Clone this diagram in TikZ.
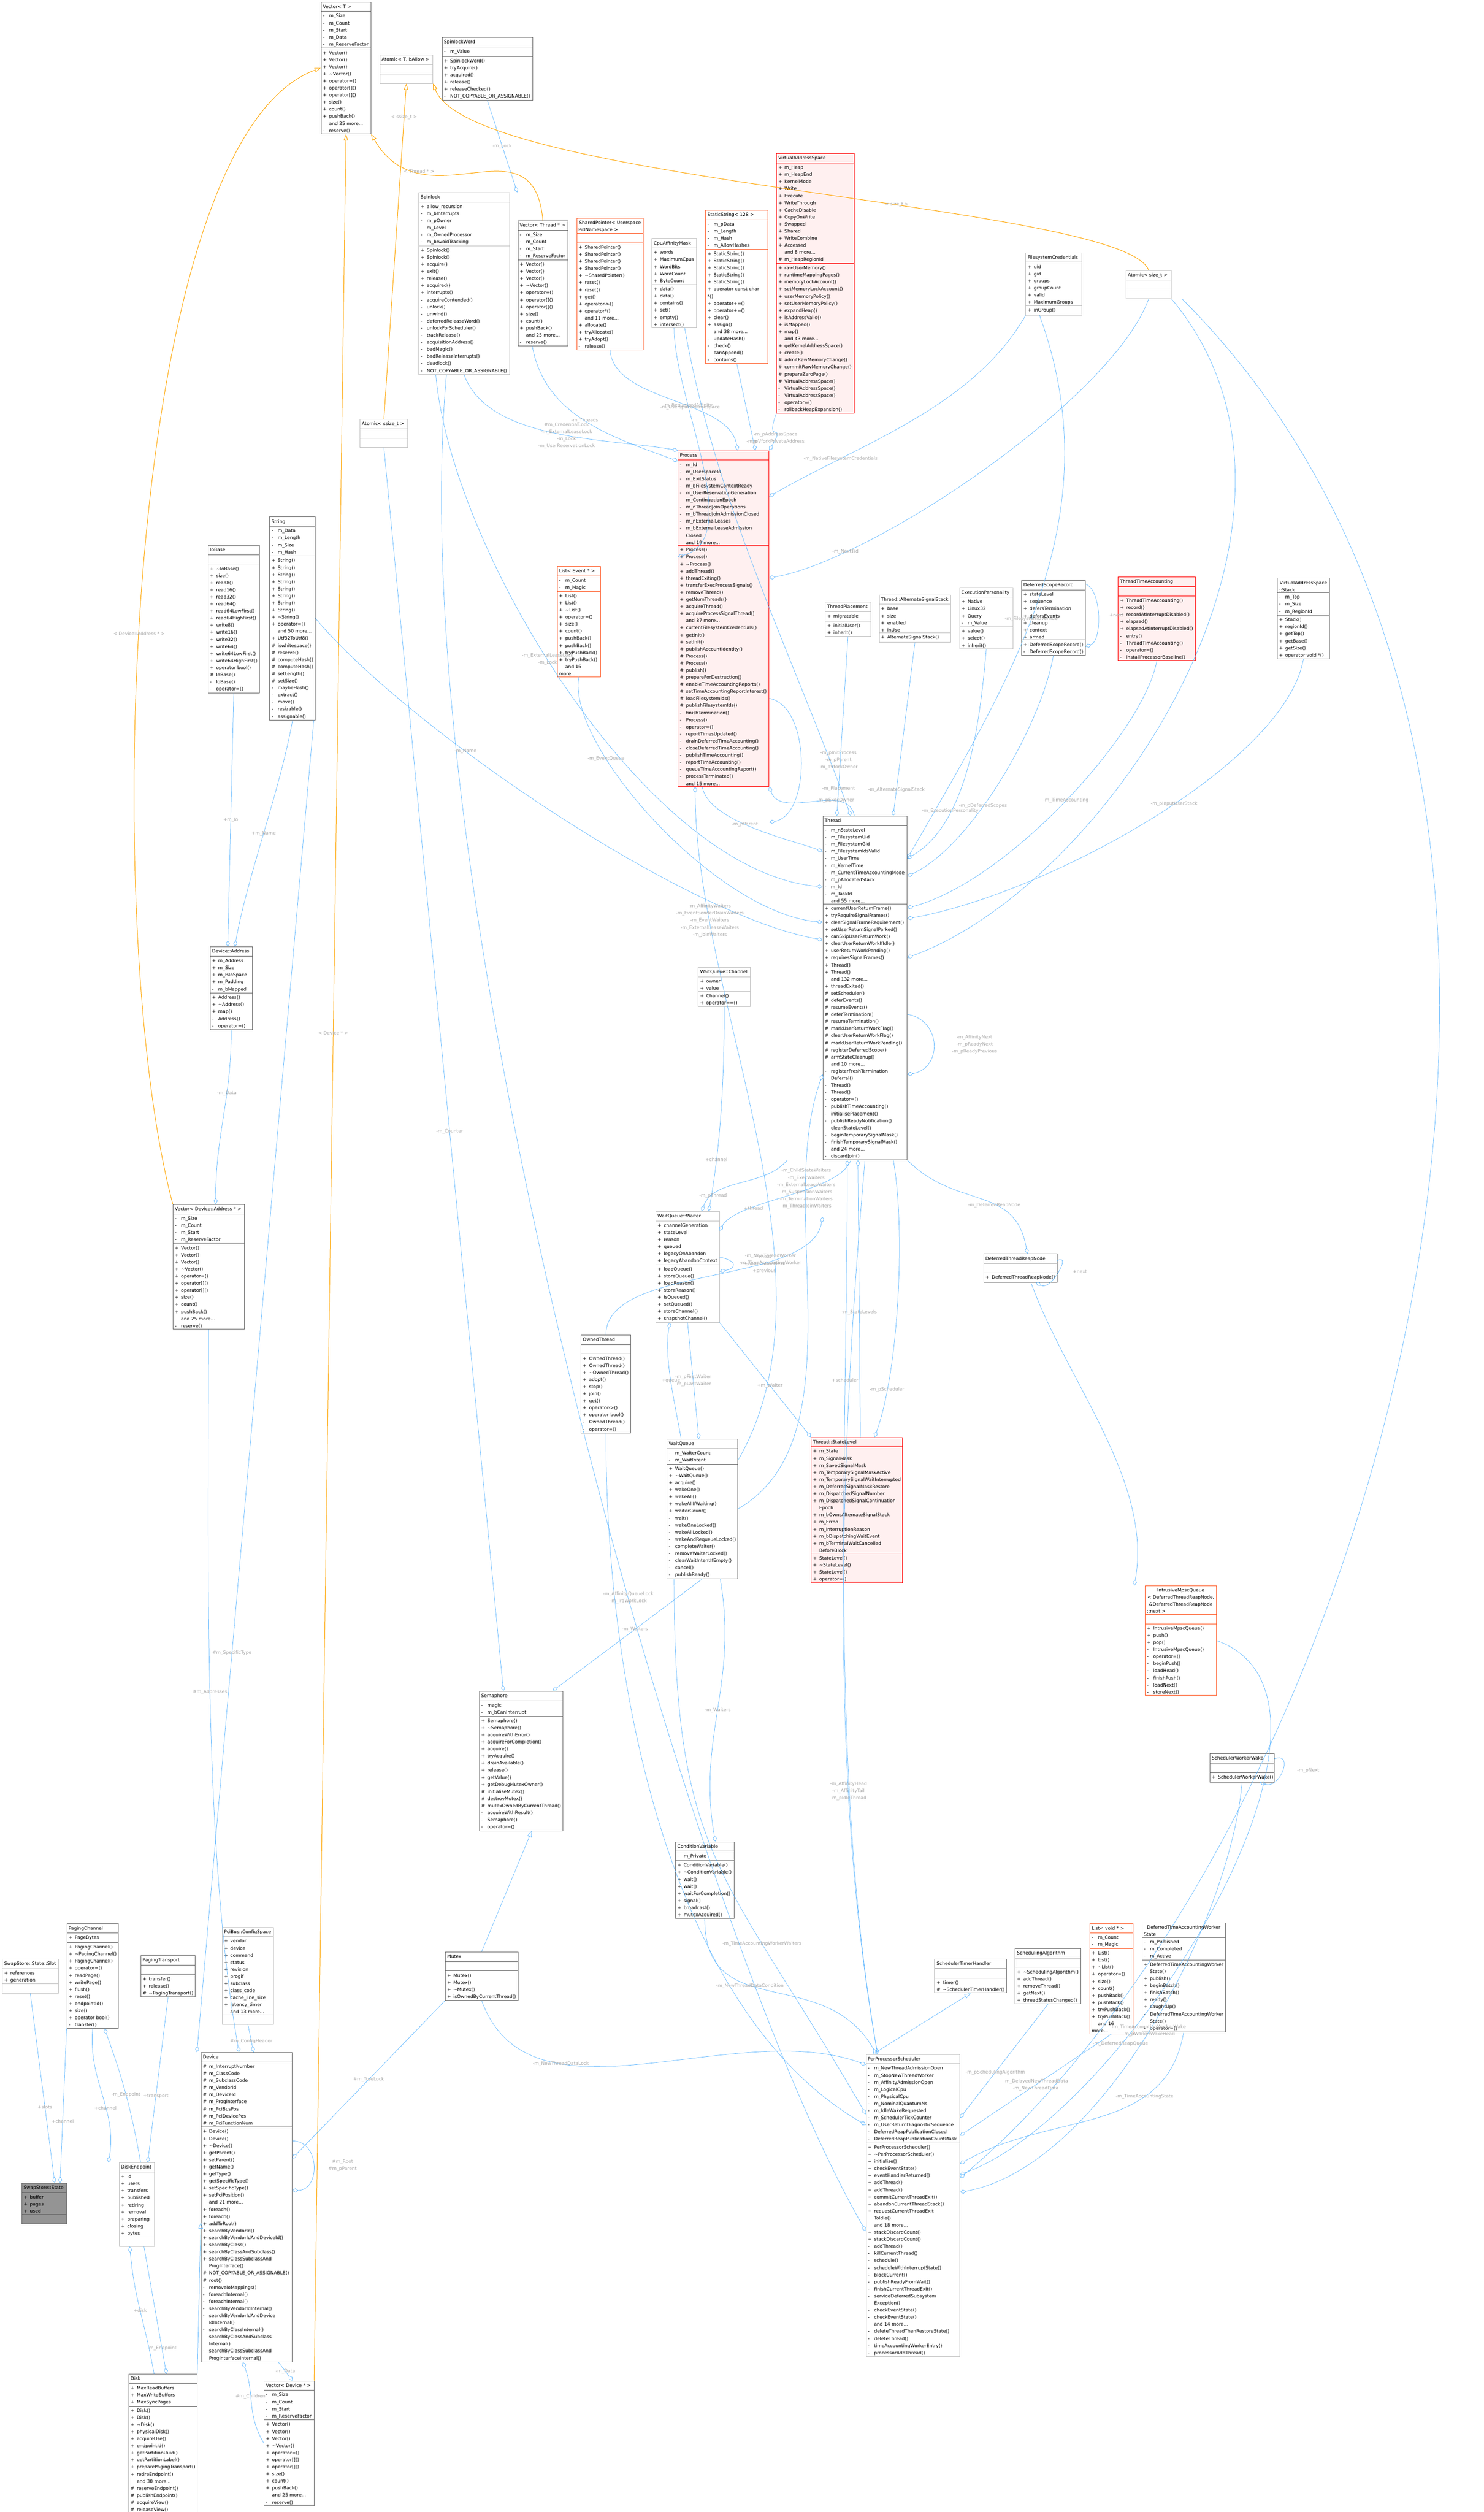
\documentclass[tikz,border=0pt]{standalone}
\usepackage{fontspec}
\setmainfont{DejaVu Sans}
\usetikzlibrary{shapes.multipart,arrows.meta}
\definecolor{ublue}{HTML}{63B8FF}
\definecolor{torange}{HTML}{FFA500}
\definecolor{redb}{HTML}{FF0000}
\definecolor{redf}{HTML}{FFF0F0}
\definecolor{orgb}{HTML}{FF5722}
\definecolor{darkb}{HTML}{666666}
\definecolor{lightb}{HTML}{BFBFBF}
\definecolor{lblc}{HTML}{A8A8A8}
% member lines with visibility mark
\newcommand\vp[1]{\makebox[5pt][l]{+}#1}
\newcommand\vh[1]{\makebox[5pt][l]{\#}#1}
\newcommand\vm[1]{\makebox[5pt][l]{-}#1}
\newcommand\vn[1]{\makebox[5pt][l]{}#1}
\newcommand\dt{\textasciitilde}
% class box: name, x, y, width (px), style, title, attributes, methods
\newcommand\umlcls[8]{%
  \pgfmathsetmacro\clsw{#4*0.28453-3}%
  \node[cls,#5,text width=\clsw pt] (#1) at ({#2/100},{-#3/100})
    {\centering\strut #6\nodepart{two}\strut #7\nodepart{three}\strut #8};}
\begin{document}
\catcode`\_=12
\begin{tikzpicture}[
    every node/.style={font=\fontsize{3.7}{5.69}\selectfont},
    cls/.style={rectangle split, rectangle split parts=3, draw=darkb, fill=white,
      anchor=north west, inner xsep=1.5pt, inner ysep=0.8pt, line width=0.3pt},
    lite/.style={draw=lightb},
    hot/.style={draw=redb, fill=redf},
    tmplc/.style={draw=orgb},
    focus/.style={fill=darkb!70, draw=darkb},
    use/.style={draw=ublue, line width=0.3pt, -{Diamond[open,length=5pt,width=3.2pt]}},
    inh/.style={draw=ublue, line width=0.3pt, -{Triangle[open,length=5pt,width=3.5pt]}},
    tmpl/.style={draw=torange, line width=0.4pt, -{Triangle[open,length=5pt,width=3.5pt]}},
    lbl/.style={text=lblc, align=center, inner sep=0.5pt}]
\useasboundingbox (0,0) rectangle (41.9,-70.93);

% top row
\umlcls{vecT}{906}{5}{141}{}{Vector< T >}
  {\vm{m_Size}\\\vm{m_Count}\\\vm{m_Start}\\\vm{m_Data}\\\vm{m_ReserveFactor}}
  {\vp{Vector()}\\\vp{Vector()}\\\vp{Vector()}\\\vp{\dt Vector()}\\\vp{operator=()}\\\vp{operator[]()}\\\vp{operator[]()}\\\vp{size()}\\\vp{count()}\\\vp{pushBack()}\\\vn{and 25 more...}\\\vm{reserve()}}
\umlcls{atomT}{1072}{155}{150}{lite}{Atomic< T, bAllow >}{}{}
\umlcls{slw}{1248}{105}{255}{}{SpinlockWord}
  {\vm{m_Value}}
  {\vp{SpinlockWord()}\\\vp{tryAcquire()}\\\vp{acquired()}\\\vp{release()}\\\vp{releaseChecked()}\\\vm{NOT_COPYABLE_OR_ASSIGNABLE()}}
\umlcls{spin}{1182}{543}{256}{lite}{Spinlock}
  {\vp{allow_recursion}\\\vm{m_bInterrupts}\\\vm{m_pOwner}\\\vm{m_Level}\\\vm{m_OwnedProcessor}\\\vm{m_bAvoidTracking}}
  {\vp{Spinlock()}\\\vp{Spinlock()}\\\vp{acquire()}\\\vp{exit()}\\\vp{release()}\\\vp{acquired()}\\\vp{interrupts()}\\\vm{acquireContended()}\\\vm{unlock()}\\\vm{unwind()}\\\vm{deferredReleaseWord()}\\\vm{unlockForScheduler()}\\\vm{trackRelease()}\\\vm{acquisitionAddress()}\\\vm{badMagic()}\\\vm{badReleaseInterrupts()}\\\vm{deadlock()}\\\vm{NOT_COPYABLE_OR_ASSIGNABLE()}}
\umlcls{vecThr}{1462}{623}{141}{}{Vector< Thread * >}
  {\vm{m_Size}\\\vm{m_Count}\\\vm{m_Start}\\\vm{m_ReserveFactor}}
  {\vp{Vector()}\\\vp{Vector()}\\\vp{Vector()}\\\vp{\dt Vector()}\\\vp{operator=()}\\\vp{operator[]()}\\\vp{operator[]()}\\\vp{size()}\\\vp{count()}\\\vp{pushBack()}\\\vn{and 25 more...}\\\vm{reserve()}}
\umlcls{shp}{1628}{615}{188}{tmplc}{SharedPointer< Userspace\\PidNamespace >}{}
  {\vp{SharedPointer()}\\\vp{SharedPointer()}\\\vp{SharedPointer()}\\\vp{SharedPointer()}\\\vp{\dt SharedPointer()}\\\vp{reset()}\\\vp{reset()}\\\vp{get()}\\\vp{operator->()}\\\vp{operator*()}\\\vn{and 11 more...}\\\vp{allocate()}\\\vp{tryAllocate()}\\\vp{tryAdopt()}\\\vm{release()}}
\umlcls{cpu}{1840}{673}{126}{lite}{CpuAffinityMask}
  {\vp{words}\\\vp{MaximumCpus}\\\vp{WordBits}\\\vp{WordCount}\\\vp{ByteCount}}
  {\vp{data()}\\\vp{data()}\\\vp{contains()}\\\vp{set()}\\\vp{empty()}\\\vp{intersect()}}
\umlcls{sstr}{1992}{593}{176}{tmplc}{StaticString< 128 >}
  {\vm{m_pData}\\\vm{m_Length}\\\vm{m_Hash}\\\vm{m_AllowHashes}}
  {\vp{StaticString()}\\\vp{StaticString()}\\\vp{StaticString()}\\\vp{StaticString()}\\\vp{StaticString()}\\\vp{operator const char *()}\\\vp{operator+=()}\\\vp{operator+=()}\\\vp{clear()}\\\vp{assign()}\\\vn{and 38 more...}\\\vm{updateHash()}\\\vm{check()}\\\vm{canAppend()}\\\vm{contains()}}
\umlcls{vas}{2192}{433}{220}{hot}{VirtualAddressSpace}
  {\vp{m_Heap}\\\vp{m_HeapEnd}\\\vp{KernelMode}\\\vp{Write}\\\vp{Execute}\\\vp{WriteThrough}\\\vp{CacheDisable}\\\vp{CopyOnWrite}\\\vp{Swapped}\\\vp{Shared}\\\vp{WriteCombine}\\\vp{Accessed}\\\vn{and 8 more...}\\\vh{m_HeapRegionId}}
  {\vp{rawUserMemory()}\\\vp{runtimeMappingPages()}\\\vp{memoryLockAccount()}\\\vp{setMemoryLockAccount()}\\\vp{userMemoryPolicy()}\\\vp{setUserMemoryPolicy()}\\\vp{expandHeap()}\\\vp{isAddressValid()}\\\vp{isMapped()}\\\vp{map()}\\\vn{and 43 more...}\\\vp{getKernelAddressSpace()}\\\vp{create()}\\\vh{admitRawMemoryChange()}\\\vh{commitRawMemoryChange()}\\\vh{prepareZeroPage()}\\\vh{VirtualAddressSpace()}\\\vm{VirtualAddressSpace()}\\\vm{VirtualAddressSpace()}\\\vm{operator=()}\\\vm{rollbackHeapExpansion()}}
\umlcls{fsc}{2896}{713}{158}{lite}{FilesystemCredentials}
  {\vp{uid}\\\vp{gid}\\\vp{groups}\\\vp{groupCount}\\\vp{valid}\\\vp{MaximumGroups}}
  {\vp{inGroup()}}
\umlcls{atomSz}{3179}{763}{128}{lite}{Atomic< size_t >}{}{}
\umlcls{atomSs}{1016}{1183}{135}{lite}{Atomic< ssize_t >}{}{}

% second band
\umlcls{iob}{587}{1539}{145}{}{IoBase}{}
  {\vp{\dt IoBase()}\\\vp{size()}\\\vp{read8()}\\\vp{read16()}\\\vp{read32()}\\\vp{read64()}\\\vp{read64LowFirst()}\\\vp{read64HighFirst()}\\\vp{write8()}\\\vp{write16()}\\\vp{write32()}\\\vp{write64()}\\\vp{write64LowFirst()}\\\vp{write64HighFirst()}\\\vp{operator bool()}\\\vh{IoBase()}\\\vm{IoBase()}\\\vm{operator=()}}
\umlcls{str}{761}{1459}{129}{}{String}
  {\vm{m_Data}\\\vm{m_Length}\\\vm{m_Size}\\\vm{m_Hash}}
  {\vp{String()}\\\vp{String()}\\\vp{String()}\\\vp{String()}\\\vp{String()}\\\vp{String()}\\\vp{String()}\\\vp{String()}\\\vp{\dt String()}\\\vp{operator=()}\\\vn{and 50 more...}\\\vp{Utf32ToUtf8()}\\\vh{iswhitespace()}\\\vh{reserve()}\\\vh{computeHash()}\\\vh{computeHash()}\\\vh{setLength()}\\\vh{setSize()}\\\vm{maybeHash()}\\\vm{extract()}\\\vm{move()}\\\vm{resizable()}\\\vm{assignable()}}
\umlcls{lev}{1573}{1599}{122}{tmplc}{List< Event * >}
  {\vm{m_Count}\\\vm{m_Magic}}
  {\vp{List()}\\\vp{List()}\\\vp{\dt List()}\\\vp{operator=()}\\\vp{size()}\\\vp{count()}\\\vp{pushBack()}\\\vp{pushBack()}\\\vp{tryPushBack()}\\\vp{tryPushBack()}\\\vn{and 16 more...}}
\umlcls{proc}{1914}{1272}{257}{hot}{Process}
  {\vm{m_Id}\\\vm{m_UserspaceId}\\\vm{m_ExitStatus}\\\vm{m_bFilesystemContextReady}\\\vm{m_UserReservationGeneration}\\\vm{m_ContinuationEpoch}\\\vm{m_nThreadJoinOperations}\\\vm{m_bThreadJoinAdmissionClosed}\\\vm{m_nExternalLeases}\\\vm{m_bExternalLeaseAdmission}\\\vn{Closed}\\\vn{and 19 more...}}
  {\vp{Process()}\\\vp{Process()}\\\vp{\dt Process()}\\\vp{addThread()}\\\vp{threadExiting()}\\\vp{transferExecProcessSignals()}\\\vp{removeThread()}\\\vp{getNumThreads()}\\\vp{acquireThread()}\\\vp{acquireProcessSignalThread()}\\\vn{and 87 more...}\\\vp{currentFilesystemCredentials()}\\\vp{getInit()}\\\vp{setInit()}\\\vh{publishAccountIdentity()}\\\vh{Process()}\\\vh{Process()}\\\vh{publish()}\\\vh{prepareForDestruction()}\\\vh{enableTimeAccountingReports()}\\\vh{setTimeAccountingReportInterest()}\\\vh{loadFilesystemIds()}\\\vh{publishFilesystemIds()}\\\vm{finishTermination()}\\\vm{Process()}\\\vm{operator=()}\\\vm{reportTimesUpdated()}\\\vm{drainDeferredTimeAccounting()}\\\vm{closeDeferredTimeAccounting()}\\\vm{publishTimeAccounting()}\\\vm{reportTimeAccounting()}\\\vm{queueTimeAccountingReport()}\\\vm{processTerminated()}\\\vn{and 15 more...}}
\umlcls{tpl}{2330}{1700}{128}{lite}{ThreadPlacement}
  {\vp{migratable}}{\vp{initialUser()}\\\vp{inherit()}}
\umlcls{ass}{2482}{1679}{202}{lite}{Thread::AlternateSignalStack}
  {\vp{base}\\\vp{size}\\\vp{enabled}\\\vp{inUse}}{\vp{AlternateSignalStack()}}
\umlcls{exp}{2709}{1659}{151}{lite}{ExecutionPersonality}
  {\vp{Native}\\\vp{Linux32}\\\vp{Query}\\\vm{m_Value}}{\vp{value()}\\\vp{select()}\\\vp{inherit()}}
\umlcls{dsr}{2884}{1639}{180}{}{DeferredScopeRecord}
  {\vp{stateLevel}\\\vp{sequence}\\\vp{defersTermination}\\\vp{defersEvents}\\\vp{cleanup}\\\vp{context}\\\vp{armed}}
  {\vp{DeferredScopeRecord()}\\\vm{DeferredScopeRecord()}}
\umlcls{tta}{3157}{1629}{218}{hot}{ThreadTimeAccounting}{}
  {\vp{ThreadTimeAccounting()}\\\vp{record()}\\\vp{recordAtInterruptDisabled()}\\\vp{elapsed()}\\\vp{elapsedAtInterruptDisabled()}\\\vm{entry()}\\\vm{ThreadTimeAccounting()}\\\vm{operator=()}\\\vm{installProcessorBaseline()}}
\umlcls{vstk}{3606}{1632}{148}{}{VirtualAddressSpace\\::Stack}
  {\vm{m_Top}\\\vm{m_Size}\\\vm{m_RegionId}}
  {\vp{Stack()}\\\vp{regionId()}\\\vp{getTop()}\\\vp{getBase()}\\\vp{getSize()}\\\vp{operator void *()}}
\umlcls{thr}{2323}{2304}{238}{}{Thread}
  {\vm{m_nStateLevel}\\\vm{m_FilesystemUid}\\\vm{m_FilesystemGid}\\\vm{m_FilesystemIdsValid}\\\vm{m_UserTime}\\\vm{m_KernelTime}\\\vm{m_CurrentTimeAccountingMode}\\\vm{m_pAllocatedStack}\\\vm{m_Id}\\\vm{m_TaskId}\\\vn{and 55 more...}}
  {\vp{currentUserReturnFrame()}\\\vp{tryRequireSignalFrames()}\\\vp{clearSignalFrameRequirement()}\\\vp{setUserReturnSignalParked()}\\\vp{canSkipUserReturnWork()}\\\vp{clearUserReturnWorkIfIdle()}\\\vp{userReturnWorkPending()}\\\vp{requiresSignalFrames()}\\\vp{Thread()}\\\vp{Thread()}\\\vn{and 132 more...}\\\vp{threadExited()}\\\vh{setScheduler()}\\\vh{deferEvents()}\\\vh{resumeEvents()}\\\vh{deferTermination()}\\\vh{resumeTermination()}\\\vh{markUserReturnWorkFlag()}\\\vh{clearUserReturnWorkFlag()}\\\vh{markUserReturnWorkPending()}\\\vh{registerDeferredScope()}\\\vh{armStateCleanup()}\\\vn{and 10 more...}\\\vm{registerFreshTermination}\\\vn{Deferral()}\\\vm{Thread()}\\\vm{Thread()}\\\vm{operator=()}\\\vm{publishTimeAccounting()}\\\vm{initialisePlacement()}\\\vm{publishReadyNotification()}\\\vm{cleanStateLevel()}\\\vm{beginTemporarySignalMask()}\\\vm{finishTemporarySignalMask()}\\\vn{and 24 more...}\\\vm{discardJoin()}}

% middle band
\umlcls{dadr}{593}{2673}{119}{}{Device::Address}
  {\vp{m_Address}\\\vp{m_Size}\\\vp{m_IsIoSpace}\\\vp{m_Padding}\\\vm{m_bMapped}}
  {\vp{Address()}\\\vp{\dt Address()}\\\vp{map()}\\\vm{Address()}\\\vm{operator=()}}
\umlcls{wqc}{1971}{2731}{147}{lite}{WaitQueue::Channel}
  {\vp{owner}\\\vp{value}}{\vp{Channel()}\\\vp{operator==()}}
\umlcls{vecDA}{488}{3400}{201}{}{Vector< Device::Address * >}
  {\vm{m_Size}\\\vm{m_Count}\\\vm{m_Start}\\\vm{m_ReserveFactor}}
  {\vp{Vector()}\\\vp{Vector()}\\\vp{Vector()}\\\vp{\dt Vector()}\\\vp{operator=()}\\\vp{operator[]()}\\\vp{operator[]()}\\\vp{size()}\\\vp{count()}\\\vp{pushBack()}\\\vn{and 25 more...}\\\vm{reserve()}}
\umlcls{wqw}{1851}{3420}{180}{lite}{WaitQueue::Waiter}
  {\vp{channelGeneration}\\\vp{stateLevel}\\\vp{reason}\\\vp{queued}\\\vp{legacyOnAbandon}\\\vp{legacyAbandonContext}}
  {\vp{loadQueue()}\\\vp{storeQueue()}\\\vp{loadReason()}\\\vp{storeReason()}\\\vp{isQueued()}\\\vp{setQueued()}\\\vp{storeChannel()}\\\vp{snapshotChannel()}}
\umlcls{dtrn}{2777}{3540}{207}{}{DeferredThreadReapNode}{}{\vp{DeferredThreadReapNode()}}
\umlcls{owt}{1640}{3769}{141}{}{OwnedThread}{}
  {\vp{OwnedThread()}\\\vp{OwnedThread()}\\\vp{\dt OwnedThread()}\\\vp{adopt()}\\\vp{stop()}\\\vp{join()}\\\vp{get()}\\\vp{operator->()}\\\vp{operator bool()}\\\vm{OwnedThread()}\\\vm{operator=()}}
\umlcls{wq}{1883}{4063}{200}{}{WaitQueue}
  {\vm{m_WaiterCount}\\\vm{m_WaitIntent}}
  {\vp{WaitQueue()}\\\vp{\dt WaitQueue()}\\\vp{acquire()}\\\vp{wakeOne()}\\\vp{wakeAll()}\\\vp{wakeAllIfWaiting()}\\\vp{waiterCount()}\\\vm{wait()}\\\vm{wakeOneLocked()}\\\vm{wakeAllLocked()}\\\vm{wakeAndRequeueLocked()}\\\vm{completeWaiter()}\\\vm{removeWaiterLocked()}\\\vm{clearWaitIntentIfEmpty()}\\\vm{cancel()}\\\vm{publishReady()}}
\umlcls{stl}{2290}{4058}{258}{hot}{Thread::StateLevel}
  {\vp{m_State}\\\vp{m_SignalMask}\\\vp{m_SavedSignalMask}\\\vp{m_TemporarySignalMaskActive}\\\vp{m_TemporarySignalWaitInterrupted}\\\vp{m_DeferredSignalMaskRestore}\\\vp{m_DispatchedSignalNumber}\\\vp{m_DispatchedSignalContinuation}\\\vn{Epoch}\\\vp{m_bOwnsAlternateSignalStack}\\\vp{m_Errno}\\\vp{m_InterruptionReason}\\\vp{m_bDispatchingWaitEvent}\\\vp{m_bTerminalWaitCancelled}\\\vn{BeforeBlock}}
  {\vp{StateLevel()}\\\vp{\dt StateLevel()}\\\vp{StateLevel()}\\\vp{operator=()}}
\umlcls{mpsc}{3233}{4477}{202}{tmplc}{IntrusiveMpscQueue\\< DeferredThreadReapNode,\\ \&DeferredThreadReapNode\\::next >}{}
  {\vp{IntrusiveMpscQueue()}\\\vp{push()}\\\vp{pop()}\\\vm{IntrusiveMpscQueue()}\\\vm{operator=()}\\\vm{beginPush()}\\\vm{loadHead()}\\\vm{finishPush()}\\\vm{loadNext()}\\\vm{storeNext()}}
\umlcls{sem}{1353}{4775}{236}{}{Semaphore}
  {\vm{magic}\\\vm{m_bCanInterrupt}}
  {\vp{Semaphore()}\\\vp{\dt Semaphore()}\\\vp{acquireWithError()}\\\vp{acquireForCompletion()}\\\vp{acquire()}\\\vp{tryAcquire()}\\\vp{drainAvailable()}\\\vp{release()}\\\vp{getValue()}\\\vp{getDebugMutexOwner()}\\\vh{initialiseMutex()}\\\vh{destroyMutex()}\\\vh{mutexOwnedByCurrentThread()}\\\vm{acquireWithResult()}\\\vm{Semaphore()}\\\vm{operator=()}}
\umlcls{sww}{3416}{4951}{182}{}{SchedulerWorkerWake}{}{\vp{SchedulerWorkerWake()}}
\umlcls{cv}{1907}{5200}{165}{}{ConditionVariable}
  {\vm{m_Private}}
  {\vp{ConditionVariable()}\\\vp{\dt ConditionVariable()}\\\vp{wait()}\\\vp{wait()}\\\vp{waitForCompletion()}\\\vp{signal()}\\\vp{broadcast()}\\\vp{mutexAcquired()}}
\umlcls{mtx}{1257}{5511}{205}{}{Mutex}{}
  {\vp{Mutex()}\\\vp{Mutex()}\\\vp{\dt Mutex()}\\\vp{isOwnedByCurrentThread()}}

% scheduler band
\umlcls{sth}{2639}{5531}{203}{}{SchedulerTimerHandler}{}
  {\vp{timer()}\\\vh{\dt SchedulerTimerHandler()}}
\umlcls{salg}{2866}{5501}{186}{}{SchedulingAlgorithm}{}
  {\vp{\dt SchedulingAlgorithm()}\\\vp{addThread()}\\\vp{removeThread()}\\\vp{getNext()}\\\vp{threadStatusChanged()}}
\umlcls{lvoid}{3077}{5431}{122}{tmplc}{List< void * >}
  {\vm{m_Count}\\\vm{m_Magic}}
  {\vp{List()}\\\vp{List()}\\\vp{\dt List()}\\\vp{operator=()}\\\vp{size()}\\\vp{count()}\\\vp{pushBack()}\\\vp{pushBack()}\\\vp{tryPushBack()}\\\vp{tryPushBack()}\\\vn{and 16 more...}}
\umlcls{dtaws}{3224}{5429}{236}{}{DeferredTimeAccountingWorker\\State}
  {\vm{m_Published}\\\vm{m_Completed}\\\vm{m_Active}}
  {\vp{DeferredTimeAccountingWorker}\\\vn{State()}\\\vp{publish()}\\\vp{beginBatch()}\\\vp{finishBatch()}\\\vp{ready()}\\\vp{caughtUp()}\\\vm{DeferredTimeAccountingWorker}\\\vn{State()}\\\vm{operator=()}}
\umlcls{pcs}{2445}{5800}{265}{lite}{PerProcessorScheduler}
  {\vm{m_NewThreadAdmissionOpen}\\\vm{m_StopNewThreadWorker}\\\vm{m_AffinityAdmissionOpen}\\\vm{m_LogicalCpu}\\\vm{m_PhysicalCpu}\\\vm{m_NominalQuantumNs}\\\vm{m_IdleWakeRequested}\\\vm{m_SchedulerTickCounter}\\\vm{m_UserReturnDiagnosticSequence}\\\vm{DeferredReapPublicationClosed}\\\vm{DeferredReapPublicationCountMask}}
  {\vp{PerProcessorScheduler()}\\\vp{\dt PerProcessorScheduler()}\\\vp{initialise()}\\\vp{checkEventState()}\\\vp{eventHandlerReturned()}\\\vp{addThread()}\\\vp{addThread()}\\\vp{commitCurrentThreadExit()}\\\vp{abandonCurrentThreadStack()}\\\vp{requestCurrentThreadExit}\\\vn{ToIdle()}\\\vn{and 18 more...}\\\vp{stackDiscardCount()}\\\vp{stackDiscardCount()}\\\vm{addThread()}\\\vm{killCurrentThread()}\\\vm{schedule()}\\\vm{scheduleWithInterruptState()}\\\vm{blockCurrent()}\\\vm{publishReadyFromWait()}\\\vm{finishCurrentThreadExit()}\\\vm{serviceDeferredSubsystem}\\\vn{Exception()}\\\vm{checkEventState()}\\\vm{checkEventState()}\\\vn{and 14 more...}\\\vm{deleteThreadThenRestoreState()}\\\vm{deleteThread()}\\\vm{timeAccountingWorkerEntry()}\\\vm{processorAddThread()}}

% bottom-left band
\umlcls{slot}{6}{5531}{158}{lite}{SwapStore::State::Slot}
  {\vp{references}\\\vp{generation}}{}
\umlcls{pch}{188}{5431}{146}{}{PagingChannel}
  {\vp{PageBytes}}
  {\vp{PagingChannel()}\\\vp{\dt PagingChannel()}\\\vp{PagingChannel()}\\\vp{operator=()}\\\vp{readPage()}\\\vp{writePage()}\\\vp{flush()}\\\vp{reset()}\\\vp{endpointId()}\\\vp{size()}\\\vp{operator bool()}\\\vm{transfer()}}
\umlcls{ptr}{397}{5521}{154}{}{PagingTransport}{}
  {\vp{transfer()}\\\vp{release()}\\\vh{\dt PagingTransport()}}
\umlcls{pci}{627}{5441}{145}{lite}{PciBus::ConfigSpace}
  {\vp{vendor}\\\vp{device}\\\vp{command}\\\vp{status}\\\vp{revision}\\\vp{progif}\\\vp{subclass}\\\vp{class_code}\\\vp{cache_line_size}\\\vp{latency_timer}\\\vn{and 13 more...}}{}
\umlcls{dev}{567}{5795}{257}{}{Device}
  {\vh{m_InterruptNumber}\\\vh{m_ClassCode}\\\vh{m_SubclassCode}\\\vh{m_VendorId}\\\vh{m_DeviceId}\\\vh{m_ProgInterface}\\\vh{m_PciBusPos}\\\vh{m_PciDevicePos}\\\vh{m_PciFunctionNum}}
  {\vp{Device()}\\\vp{Device()}\\\vp{\dt Device()}\\\vp{getParent()}\\\vp{setParent()}\\\vp{getName()}\\\vp{getType()}\\\vp{getSpecificType()}\\\vp{setSpecificType()}\\\vp{setPciPosition()}\\\vn{and 21 more...}\\\vp{foreach()}\\\vp{foreach()}\\\vp{addToRoot()}\\\vp{searchByVendorId()}\\\vp{searchByVendorIdAndDeviceId()}\\\vp{searchByClass()}\\\vp{searchByClassAndSubclass()}\\\vp{searchByClassSubclassAnd}\\\vn{ProgInterface()}\\\vh{NOT_COPYABLE_OR_ASSIGNABLE()}\\\vh{root()}\\\vm{removeIoMappings()}\\\vm{foreachInternal()}\\\vm{foreachInternal()}\\\vm{searchByVendorIdInternal()}\\\vm{searchByVendorIdAndDevice}\\\vn{IdInternal()}\\\vm{searchByClassInternal()}\\\vm{searchByClassAndSubclass}\\\vn{Internal()}\\\vm{searchByClassSubclassAnd}\\\vn{ProgInterfaceInternal()}}
\umlcls{sst}{61}{6164}{126}{focus}{SwapStore::State}
  {\vp{buffer}\\\vp{pages}\\\vp{used}}{}
\umlcls{dep}{336}{6106}{100}{lite}{DiskEndpoint}
  {\vp{id}\\\vp{users}\\\vp{transfers}\\\vp{published}\\\vp{retiring}\\\vp{removal}\\\vp{preparing}\\\vp{closing}\\\vp{bytes}}{}
\umlcls{disk}{363}{6703}{193}{}{Disk}
  {\vp{MaxReadBuffers}\\\vp{MaxWriteBuffers}\\\vp{MaxSyncPages}}
  {\vp{Disk()}\\\vp{Disk()}\\\vp{\dt Disk()}\\\vp{physicalDisk()}\\\vp{acquireUse()}\\\vp{endpointId()}\\\vp{getPartitionUuid()}\\\vp{getPartitionLabel()}\\\vp{preparePagingTransport()}\\\vp{retireEndpoint()}\\\vn{and 30 more...}\\\vh{reserveEndpoint()}\\\vh{publishEndpoint()}\\\vh{acquireView()}\\\vh{releaseView()}}
\umlcls{vecDev}{745}{6722}{141}{}{Vector< Device * >}
  {\vm{m_Size}\\\vm{m_Count}\\\vm{m_Start}\\\vm{m_ReserveFactor}}
  {\vp{Vector()}\\\vp{Vector()}\\\vp{Vector()}\\\vp{\dt Vector()}\\\vp{operator=()}\\\vp{operator[]()}\\\vp{operator[]()}\\\vp{size()}\\\vp{count()}\\\vp{pushBack()}\\\vn{and 25 more...}\\\vm{reserve()}}

% template instances
\draw[tmpl] (vecThr.north) .. controls +(95:3) and +(-60:3) .. (vecT.south east) node[lbl,pos=0.75]{< Thread * >};
\draw[tmpl] (vecDA.north west) .. controls +(105:8) and +(200:6) .. (vecT.west) node[lbl,pos=0.45]{< Device::Address * >};
\draw[tmpl] (vecDev.north east) -- (vecT.south) node[lbl,pos=0.6]{< Device * >};
\draw[tmpl] (atomSs.north) -- (atomT.south) node[lbl,pos=0.9]{< ssize_t >};
\draw[tmpl] (atomSz.north) .. controls +(110:2) and +(-70:3) .. (atomT.south east) node[lbl,pos=0.4]{< size_t >};

% usage relations
\draw[use] (slw.south) -- ([xshift=1.5cm]spin.north) node[lbl,pos=0.5]{-m_Lock};
\draw[use] (spin.south) .. controls +(-70:2) and +(170:2) .. (proc.north west) node[lbl,pos=0.55]{\#m_CredentialLock\\-m_ExternalLeaseLock\\-m_Lock\\-m_UserReservationLock};
\draw[use] ([xshift=-0.8cm]spin.south) .. controls +(-85:5) and +(175:5) .. ([yshift=-2cm]thr.north west) node[lbl,pos=0.45]{-m_ExternalLeaseLock\\-m_Lock};
\draw[use] ([xshift=-0.5cm]spin.south) .. controls +(-95:15) and +(120:10) .. ([yshift=-5cm]pcs.north west) node[lbl,pos=0.6]{-m_AffinityQueueLock\\-m_IrqWorkLock};
\draw[use] ([xshift=-0.3cm]vecThr.south) .. controls +(-80:2) and +(160:2) .. ([yshift=-0.3cm]proc.north west) node[lbl,pos=0.5]{-m_Threads};
\draw[use] (shp.south) .. controls +(-85:1.5) and +(100:1.5) .. ([xshift=0.4cm]proc.north) node[lbl,pos=0.6]{-m_UserspaceNamespace};
\draw[use] (cpu.south) .. controls +(-90:2) and +(15:2) .. ([yshift=-3cm]proc.north west) node[lbl,pos=0.3]{-m_RequestedAffinity};
\draw[use] ([xshift=0.3cm]cpu.south) .. controls +(-80:5) and +(110:5) .. ([xshift=-0.4cm]thr.north);
\draw[use] (sstr.south) -- ([xshift=0.9cm]proc.north) node[lbl,pos=0.9]{-str};
\draw[use] (vas.south west) .. controls +(-110:1) and +(60:1) .. (proc.north east) node[lbl,pos=0.8]{-m_pAddressSpace\\-m_pVforkPrivateAddress};
\draw[use] (fsc.south west) .. controls +(-120:3) and +(30:3) .. ([yshift=-1.3cm]proc.north east) node[lbl,pos=0.75]{-m_NativeFilesystemCredentials};
\draw[use] ([xshift=-0.4cm]fsc.south) .. controls +(-70:6) and +(60:6) .. ([yshift=-1.2cm]thr.north east) node[lbl,pos=0.55]{-m_FilesystemOverride};
\draw[use] (atomSz.south) .. controls +(-110:3) and +(10:3) .. ([yshift=-3.6cm]proc.north east) node[lbl,pos=0.8]{-m_NextTid};
\draw[use] (atomSz.south east) .. controls +(-50:8) and +(20:6) .. ([yshift=-4cm]thr.north east);
\draw[use] ([xshift=0.3cm]atomSz.south east) .. controls +(-45:20) and +(40:15) .. ([yshift=-3.5cm]pcs.north east);
\draw[use] (str.south) .. controls +(-100:2) and +(80:2) .. ([xshift=0.1cm]dadr.north) node[lbl,pos=0.5]{+m_Name};
\draw[use] (iob.south) -- ([xshift=-0.1cm]dadr.north) node[lbl,pos=0.5]{+m_Io};
\draw[use] (str.east) .. controls +(-50:4) and +(170:4) .. ([yshift=-3.5cm]thr.north west) node[lbl,pos=0.35]{-m_Name};
\draw[use] ([xshift=0.6cm]str.south) -- ([xshift=-1.4cm]dev.north) node[lbl,pos=0.7]{\#m_SpecificType};
\draw[use] (lev.south) .. controls +(-100:2) and +(175:3) .. ([yshift=-3cm]thr.north west) node[lbl,pos=0.3]{-m_EventQueue};
\draw[use] (atomSs.south) -- ([xshift=-0.5cm]sem.north) node[lbl,pos=0.55]{-m_Counter};
\draw[use] ([yshift=-7cm]proc.north east) .. controls +(-10:1.2) and +(10:1.2) .. ([yshift=-10.5cm]proc.north east) node[lbl,pos=0.5,right=0.5cm]{-m_pInitProcess\\-m_pParent\\-m_pVforkOwner};
\draw[use] ([xshift=-0.3cm]thr.north) .. controls +(100:1) and +(-70:1) .. (proc.south east) node[lbl,pos=0.3]{-m_pExecOwner};
\draw[use] ([xshift=-0.6cm]proc.south) .. controls +(-80:1) and +(160:1) .. ([yshift=-1cm]thr.north west) node[lbl,pos=0.45]{-m_pParent};
\draw[use] (tpl.south) -- ([xshift=0.4cm]thr.north west) node[lbl,pos=0.85]{-m_Placement};
\draw[use] (ass.south) -- ([xshift=-0.4cm]thr.north east) node[lbl,pos=0.85]{-m_AlternateSignalStack};
\draw[use] (exp.south) .. controls +(-95:2) and +(30:2) .. ([yshift=-1.2cm]thr.north east) node[lbl,pos=0.7]{-m_ExecutionPersonality};
\draw[use] (dsr.south) .. controls +(-100:2) and +(25:2) .. ([yshift=-1.7cm]thr.north east) node[lbl,pos=0.6]{-m_pDeferredScopes};
\draw[use] ([yshift=-0.1cm]dsr.north east) .. controls +(-20:0.5) and +(20:0.5) .. ([yshift=0.25cm]dsr.south east) node[lbl,pos=0.5,right=0.3cm]{+next};
\draw[use] (tta.south) .. controls +(-100:2) and +(15:3) .. ([yshift=-2.6cm]thr.north east) node[lbl,pos=0.5]{-m_TimeAccounting};
\draw[use] (vstk.south) .. controls +(-100:3) and +(10:4) .. ([yshift=-2.9cm]thr.north east) node[lbl,pos=0.45]{-m_pInputUserStack};
\draw[use] ([yshift=-5.6cm]thr.north east) .. controls +(-10:1) and +(10:1) .. ([yshift=-7.3cm]thr.north east) node[lbl,pos=0.5,right=0.5cm]{-m_AffinityNext\\-m_pReadyNext\\-m_pReadyPrevious};
\draw[use] (dadr.south) .. controls +(-90:2) and +(90:2) .. ([xshift=0.2cm]vecDA.north) node[lbl,pos=0.35]{-m_Data};
\draw[use] (vecDA.south) .. controls +(-90:6) and +(100:6) .. ([xshift=-1.5cm]dev.north east) node[lbl,pos=0.5]{\#m_Addresses};
\draw[use] (wqc.south) .. controls +(-90:2) and +(80:2) .. ([xshift=0.6cm]wqw.north) node[lbl,pos=0.75]{+channel};
\draw[use] ([xshift=-0.4cm]thr.south) .. controls +(-110:1) and +(60:1) .. ([yshift=-0.55cm]wqw.north east) node[lbl,pos=0.7]{+thread};
\draw[use] ([xshift=-1cm]thr.south west) .. controls +(-130:1) and +(70:1) .. ([xshift=0.4cm]wqw.north) node[lbl,pos=0.8]{-m_pThread};
\draw[use] ([yshift=-1.3cm]wqw.north east) .. controls +(-10:0.5) and +(10:0.5) .. ([yshift=-1.7cm]wqw.north east) node[lbl,pos=0.5,right=0.3cm]{+next\\+notificationNext\\+previous};
\draw[use] ([xshift=-0.6cm]wq.north) .. controls +(100:1) and +(-100:1) .. ([xshift=-0.5cm]wqw.south) node[lbl,pos=0.5]{+queue};
\draw[use] (wqw.south) -- ([xshift=-0.1cm]wq.north) node[lbl,pos=0.5]{-m_pFirstWaiter\\-m_pLastWaiter};
\draw[use] (wqw.south east) -- (stl.north west) node[lbl,pos=0.55]{+m_Waiter};
\draw[use] (wq.east) .. controls +(30:4) and +(-110:4) .. ([yshift=-7.3cm]thr.north west) node[lbl,pos=0.75]{-m_ChildStateWaiters\\-m_ExecWaiters\\-m_ExternalLeaseWaiters\\-m_SuspensionWaiters\\-m_TerminationWaiters\\-m_ThreadJoinWaiters};
\draw[use] ([yshift=-0.6cm]wq.north east) .. controls +(60:6) and +(-90:6) .. ([xshift=-0.8cm]proc.south) node[lbl,pos=0.8]{-m_AffinityWaiters\\-m_EventSenderDrainWaiters\\-m_EventWaiters\\-m_ExternalLeaseWaiters\\-m_JoinWaiters};
\draw[use] ([xshift=0.1cm]stl.north) -- ([xshift=-0.2cm]thr.south) node[lbl,pos=0.45]{-m_StateLevels};
\draw[use] ([xshift=0.8cm]thr.south) .. controls +(-80:2) and +(70:2) .. ([xshift=0.5cm]stl.north) node[lbl,pos=0.8]{-m_pScheduler};
\draw[use] ([yshift=-0.2cm]dtrn.north east) .. controls +(30:0.5) and +(-30:0.5) .. ([xshift=-0.6cm]dtrn.south east) node[lbl,pos=0.5,right=0.4cm]{+next};
\draw[use] (thr.south east) .. controls +(-45:2) and +(100:2) .. ([xshift=0.2cm]dtrn.north) node[lbl,pos=0.6]{-m_DeferredReapNode};
\draw[use] ([xshift=0.3cm]dtrn.south) .. controls +(-70:3) and +(80:3) .. ([xshift=-0.3cm]mpsc.north west);
\draw[use] (mpsc.east) .. controls +(-20:5) and +(20:5) .. ([yshift=-3.4cm]pcs.north east) node[lbl,pos=0.7]{-m_DeferredReapQueue};
\draw[use] ([yshift=-0.15cm]sww.north east) .. controls +(20:0.6) and +(-20:0.6) .. ([xshift=0.5cm]sww.south) node[lbl,pos=0.5,right=0.4cm]{-m_pNext};
\draw[use] (sww.south) .. controls +(-95:4) and +(10:4) .. ([yshift=-3.9cm]pcs.north east) node[lbl,pos=0.5]{-m_TimeAccountingWorkerWake\\-m_pWorkerWakeHead};
\draw[use] (thr.south) .. controls +(-95:8) and +(100:8) .. ([xshift=-1cm]pcs.north) node[lbl,pos=0.7]{-m_AffinityHead\\-m_AffinityTail\\-m_pIdleThread};
\draw[use] (owt.north) .. controls +(90:2) and +(-100:2) .. ([yshift=-1.6cm]thr.south west) node[lbl,pos=0.7]{-m_NewThreadWorker\\-m_TimeAccountingWorker};
\draw[use] (owt.south) .. controls +(-90:8) and +(150:6) .. ([yshift=-2cm]pcs.north west);
\draw[use] (wq.south) -- ([xshift=-0.3cm]sem.north east) node[lbl,pos=0.45]{-m_Waiters};
\draw[use] ([xshift=0.5cm]wq.south) .. controls +(-80:3) and +(100:3) .. ([xshift=0.3cm]cv.north) node[lbl,pos=0.5]{-m_Waiters};
\draw[use] ([xshift=-0.8cm]wq.south) .. controls +(-90:8) and +(120:8) .. ([yshift=-1.7cm]pcs.north west) node[lbl,pos=0.7]{-m_TimeAccountingWorkerWaiters};
\draw[use] ([xshift=-1cm]pcs.north) .. controls +(100:8) and +(-90:8) .. ([xshift=-0.5cm]thr.south) node[lbl,pos=0.75]{+scheduler};
\draw[inh] (mtx.north) -- ([xshift=0.3cm]sem.south);
\draw[use] (mtx.south west) -- ([yshift=-3cm]dev.north east) node[lbl,pos=0.5]{\#m_TreeLock};
\draw[use] (mtx.south) .. controls +(-70:4) and +(160:4) .. ([yshift=-0.3cm]pcs.north west) node[lbl,pos=0.3]{-m_NewThreadDataLock};
\draw[use] (cv.south) .. controls +(-90:3) and +(120:3) .. ([xshift=0.3cm]pcs.north west) node[lbl,pos=0.4]{-m_NewThreadDataCondition};
\draw[use] (salg.south) -- ([yshift=-1.8cm]pcs.north east) node[lbl,pos=0.6]{-m_pSchedulingAlgorithm};
\draw[use] (lvoid.south) -- ([yshift=-2.3cm]pcs.north east) node[lbl,pos=0.5]{-m_DelayedNewThreadData\\-m_NewThreadData};
\draw[use] (dtaws.south) .. controls +(-100:3) and +(30:3) .. ([yshift=-3.1cm]pcs.north east) node[lbl,pos=0.3]{-m_TimeAccountingState};
\draw[inh] ([xshift=0.2cm]pcs.north west) -- (sth.south);
\draw[use] (slot.south) -- ([xshift=0.3cm]sst.north) node[lbl,pos=0.6]{+slots};
\draw[use] (pch.south west) -- ([xshift=0.45cm]sst.north) node[lbl,pos=0.6]{+channel};
\draw[use] (pch.south) .. controls +(-95:1.5) and +(80:1.5) .. ([xshift=-0.3cm]dep.north west) node[lbl,pos=0.6]{+channel};
\draw[use] ([xshift=-0.4cm]dep.north east) .. controls +(100:1.5) and +(-70:1.5) .. ([xshift=-0.4cm]pch.south east) node[lbl,pos=0.5]{-m_Endpoint};
\draw[use] (ptr.south) -- ([xshift=-0.2cm]dep.north east) node[lbl,pos=0.6]{+transport};
\draw[use] (pci.south) -- ([xshift=0.2cm]dev.north) node[lbl,pos=0.6]{\#m_ConfigHeader};
\draw[use] ([xshift=-0.25cm]disk.north) .. controls +(100:1.5) and +(-85:1.5) .. ([xshift=-0.2cm]dep.south) node[lbl,pos=0.5]{+disk};
\draw[use] ([xshift=0.2cm]dep.south) -- ([xshift=0.1cm]disk.north) node[lbl,pos=0.8]{-m_Endpoint};
\draw[inh] (disk.north east) -- ([yshift=-4.8cm]dev.north west);
\draw[use] ([yshift=-2.5cm]dev.north east) .. controls +(0:0.8) and +(0:0.8) .. ([yshift=-3.9cm]dev.north east) node[lbl,pos=0.5,right=0.4cm]{\#m_Root\\\#m_pParent};
\draw[use] (vecDev.west) .. controls +(120:1) and +(-70:1) .. ([xshift=-0.1cm]dev.south) node[lbl,pos=0.6]{\#m_Children};
\draw[use] ([xshift=0.9cm]dev.south) -- ([xshift=0.1cm]vecDev.north) node[lbl,pos=0.5]{-m_Data};
\end{tikzpicture}
\end{document}
